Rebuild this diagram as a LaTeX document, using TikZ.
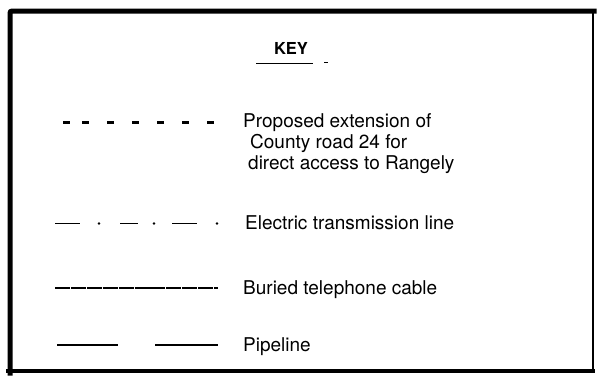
\documentclass[tikz,border=0pt]{standalone}
\usepackage{fontspec}
\setmainfont{TeX Gyre Heros}
\begin{document}
\begin{tikzpicture}[x=1pt,y=-1pt,
  lbl/.style={anchor=base west,inner sep=0pt,font=\fontsize{19}{21}\selectfont},
  keytitle/.style={inner sep=0pt,font=\fontsize{16.5}{18}\selectfont\bfseries},
  frame/.style={draw=black,line cap=rect},
  sample/.style={draw=black},
  dotmark/.style={fill=black}]
\useasboundingbox[fill=white] (0,0) rectangle (597,376);
% frame
\draw[frame,line width=5pt,rounded corners=2pt] (594,11) -- (10,11) -- (10,373);
\draw[frame,line width=1.6pt] (593,11) -- (593,371);
\draw[frame,line width=4pt] (8,371) -- (593,371);
% title
\node[keytitle] (key) at (291,48) {KEY};
\coordinate (u1) at (256,63); \coordinate (u2) at (313,63);
\coordinate (u3) at (324,62.5); \coordinate (u4) at (328,62.5);
\draw[line width=1pt] (u1) -- (u2);
\draw[line width=0.6pt] (u3) -- (u4);
% proposed road
\coordinate (r1) at (63,122.5); \coordinate (r2) at (214,122.5);
\draw[sample,line width=2.3pt,dash pattern=on 7pt off 12pt on 7pt off 18pt on 7pt off 18pt on 7pt off 18pt on 7pt off 18pt on 7pt off 18pt on 7pt off 18pt] (r1) -- (r2);
\node[lbl] (t1) at (243,127) {Proposed extension of};
\node[lbl] (t2) at (250,148) {County road 24 for};
\node[lbl] (t3) at (248,169) {direct access to Rangely};
% electric
\coordinate (e1) at (55,223.5); \coordinate (e2) at (197,223.5);
\draw[sample,line width=1.2pt,dash pattern=on 25pt off 40pt on 18pt off 34pt on 25pt off 20pt] (e1) -- (e2);
\coordinate (d1) at (99,223.5); \coordinate (d2) at (154,223.5); \coordinate (d3) at (217,223.5);
\fill[dotmark] (d1) circle (1.3pt) (d2) circle (1.3pt) (d3) circle (1.3pt);
\node[lbl] (t4) at (245,229.5) {Electric transmission line};
% telephone
\coordinate (c1) at (55,288); \coordinate (c2) at (218,288);
\draw[sample,line width=1.2pt,dash pattern=on 15pt off 0.9pt] (c1) -- (c2);
\node[lbl] (t5) at (243,294) {Buried telephone cable};
% pipeline
\coordinate (p1) at (57,345); \coordinate (p2) at (118,345);
\coordinate (p3) at (155,345); \coordinate (p4) at (218,345);
\draw[sample,line width=1.7pt] (p1) -- (p2);
\draw[sample,line width=2.1pt] (p3) -- (p4);
\node[lbl] (t6) at (243,351) {Pipeline};
\end{tikzpicture}
\end{document}
